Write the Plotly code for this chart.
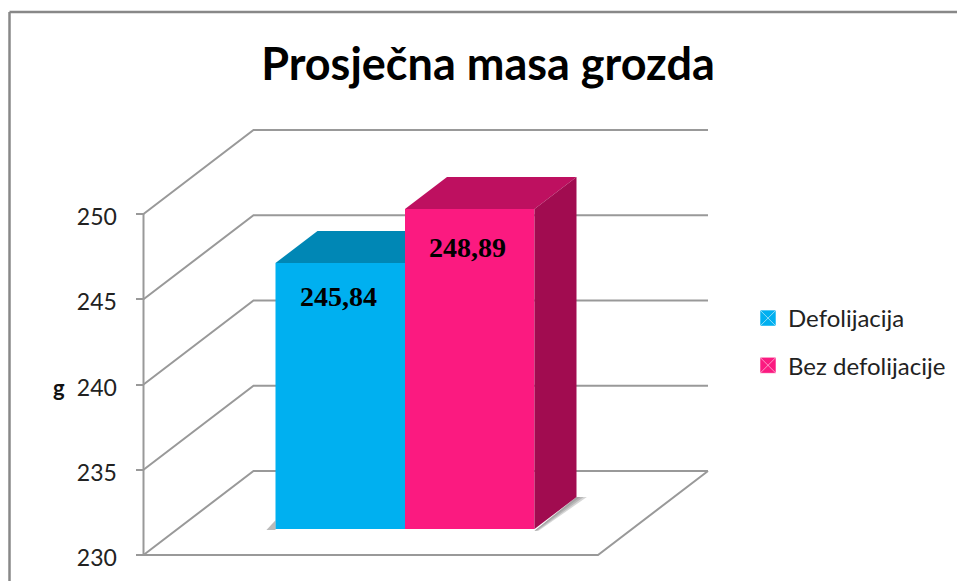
import plotly.graph_objects as go

# ---------- data ----------
title = "Prosječna masa grozda"
series_names = ["Defolijacija", "Bez defolijacije"]
series_values = [245.84, 248.89]
tick_values = [230, 235, 240, 245, 250]
axis_label = "g"

# ---------- styles / geometry ----------
W, H = 957, 581
front_colors = ["#00B0F0", "#FB1A80"]
top_colors = ["#0087B5", "#BE1060"]
side_colors = ["#0078A3", "#A10C50"]
label_shifts = [-33, -38]
GRID = "#999999"
FONT = "Lato"

# main axis: 230 at pixel 555, 17.05 px per unit
A0, AK = 555, 17.05
# bar scale (bars stand deeper in the pseudo-3D box)
B_REF_PX, BK = 263, 17.7
BAR_BASE = 230.81
# x: category index, 129.5 px per category, first centre at 340.25
XC, XK = 340.25, 129.5
# depth offsets
WALL_DX, WALL_DY = 110 / XK, 84 / AK        # box depth (x units, y units)
BAR_DX, BAR_DY = 42 / XK, 32 / BK           # bar depth


def xval(px):
    return (px - XC) / XK


x_range = [xval(0), xval(W)]
main_range = [230 + (A0 - H) / AK, 230 + A0 / AK]
bar_range = [series_values[0] + (B_REF_PX - H) / BK, series_values[0] + B_REF_PX / BK]

fig = go.Figure()

# box: walls and floor, on the main axis
left = xval(143.5)
right = xval(598)
for v in tick_values:
    fig.add_trace(go.Scatter(
        x=[left, left + WALL_DX, right + WALL_DX],
        y=[v, v + WALL_DY, v + WALL_DY],
        mode="lines", line=dict(color=GRID, width=2),
        hoverinfo="skip", showlegend=False))
fig.add_trace(go.Scatter(
    x=[left, right, right + WALL_DX],
    y=[tick_values[0], tick_values[0], tick_values[0] + WALL_DY],
    mode="lines", line=dict(color=GRID, width=2),
    hoverinfo="skip", showlegend=False))
# the value axis line runs only between the first and the last tick
fig.add_trace(go.Scatter(
    x=[left, left], y=[tick_values[0], tick_values[-1]],
    mode="lines", line=dict(color=GRID, width=2),
    hoverinfo="skip", showlegend=False))

# bars: one overlay axis per series so that later bars hide earlier ones
last = len(series_values) - 1
for i, (name, v) in enumerate(zip(series_names, series_values)):
    ya = f"y{i + 2}"
    l, r = i - 0.5, i + 0.5
    if i == 0:
        # sliver of shadow left of the first bar's foot
        fig.add_trace(go.Scatter(
            x=[l - 0.07, l, l, l - 0.07],
            y=[BAR_BASE - 0.06, BAR_BASE + 0.5, BAR_BASE - 0.06, BAR_BASE - 0.06],
            yaxis=ya, mode="lines", fill="toself", fillcolor="rgba(130,130,130,0.55)",
            line=dict(width=0), hoverinfo="skip", showlegend=False))
    if i == last:
        # soft shadow on the floor, built from overlapping layers
        for spread in (0.08, 0.055, 0.03):
            fig.add_trace(go.Scatter(
                x=[r, r + BAR_DX, r + BAR_DX + spread, r + spread * 0.4, r],
                y=[BAR_BASE - 0.1, BAR_BASE + BAR_DY, BAR_BASE + BAR_DY,
                   BAR_BASE - 0.1, BAR_BASE - 0.1],
                yaxis=ya, mode="lines", fill="toself", fillcolor="rgba(110,110,110,0.28)",
                line=dict(width=0), hoverinfo="skip", showlegend=False))
    fig.add_trace(go.Bar(
        x=[i], y=[v - BAR_BASE], base=[BAR_BASE], width=[1], yaxis=ya,
        marker=dict(color=front_colors[i], line=dict(width=0)),
        hovertemplate=f"{name}: {v}<extra></extra>", showlegend=False))
    # top face
    fig.add_trace(go.Scatter(
        x=[l, l + BAR_DX, r + BAR_DX, r, l],
        y=[v, v + BAR_DY, v + BAR_DY, v, v],
        yaxis=ya, mode="lines", fill="toself", fillcolor=top_colors[i],
        line=dict(width=0), hoverinfo="skip", showlegend=False))
    # side face
    fig.add_trace(go.Scatter(
        x=[r, r + BAR_DX, r + BAR_DX, r, r],
        y=[v, v + BAR_DY, BAR_BASE + BAR_DY, BAR_BASE, v],
        yaxis=ya, mode="lines", fill="toself", fillcolor=side_colors[i],
        line=dict(width=0), hoverinfo="skip", showlegend=False))
    # legend entry
    fig.add_trace(go.Scatter(
        x=[None], y=[None], name=name, mode="markers", yaxis=ya, legendgroup=name,
        marker=dict(symbol="square-x", size=16, color=front_colors[i],
                    line=dict(color="rgba(255,255,255,0.55)", width=1))))

annotations = [
    dict(text="<b>" + f"{v:.2f}".replace(".", ",") + "</b>",
         x=i, y=v, xref="x", yref=f"y{i + 2}",
         xshift=-2, yshift=label_shifts[i], showarrow=False,
         font=dict(family="Liberation Serif", size=28, color="black"))
    for i, v in enumerate(series_values)
]
annotations.append(dict(
    text=f"<b>{axis_label}</b>", x=59 / W, y=1 - 387 / H, xref="paper", yref="paper",
    xanchor="center", yanchor="middle",
    showarrow=False, font=dict(family=FONT, size=22, color="#111111")))

overlay = dict(range=bar_range, overlaying="y", visible=False, fixedrange=True)

fig.update_layout(
    width=W, height=H,
    margin=dict(l=0, r=0, t=0, b=0, pad=0),
    paper_bgcolor="white", plot_bgcolor="white",
    barmode="overlay",
    title=dict(text=f"<b>{title}</b>", x=488 / W, xanchor="center",
               y=1 - 64 / H, yanchor="middle",
               font=dict(family=FONT, size=45, color="black")),
    xaxis=dict(range=x_range, visible=False, fixedrange=True),
    yaxis=dict(range=main_range, tickvals=tick_values, showgrid=False, zeroline=False,
               anchor="free", position=143.5 / W, showline=False,
               ticks="outside", ticklen=8, tickwidth=2, tickcolor=GRID,
               ticklabelstandoff=14, ticklabelshift=3,
               tickfont=dict(family=FONT, size=23, color="#222222"), fixedrange=True),
    yaxis2=overlay, yaxis3=overlay,
    legend=dict(x=748 / W, y=1 - 342 / H, xanchor="left", yanchor="middle",
                font=dict(family=FONT, size=24, color="#222222"),
                bgcolor="rgba(0,0,0,0)", tracegroupgap=13, itemwidth=30,
                traceorder="grouped"),
    annotations=annotations,
    shapes=[
        dict(type="line", xref="paper", yref="paper", x0=9.5 / W, x1=1, y0=1 - 12 / H, y1=1 - 12 / H,
             line=dict(color="#888888", width=2.5)),
        dict(type="line", xref="paper", yref="paper", x0=9.5 / W, x1=9.5 / W, y0=0, y1=1 - 12 / H,
             line=dict(color="#888888", width=2.5)),
    ],
)

fig.write_html("out.html", config={"displayModeBar": False},
               post_script="document.body.style.margin='0';")
